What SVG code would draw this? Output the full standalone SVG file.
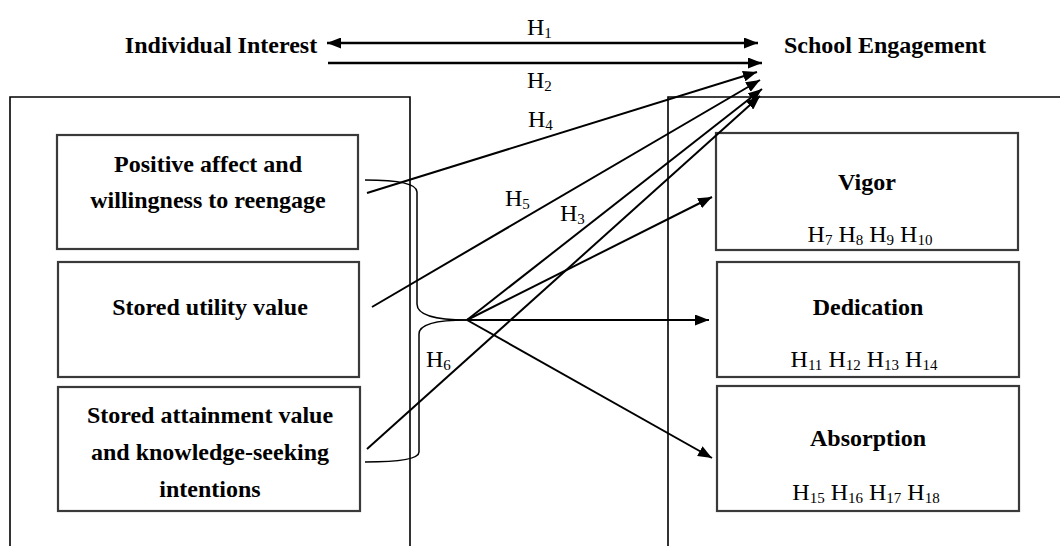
<svg xmlns="http://www.w3.org/2000/svg" width="1060" height="546" viewBox="0 0 1060 546">
<defs>
<style>
.t{font-family:"Liberation Serif","Times New Roman",serif;font-weight:bold;font-size:24px;fill:#000;text-anchor:middle}
.h{font-family:"Liberation Serif","Times New Roman",serif;font-size:24px;fill:#000}
.s{font-size:15px}
.box{fill:#fff;stroke:#3a3a3a;stroke-width:2.2}
.frame{fill:none;stroke:#000;stroke-width:1.6}
.ln{fill:none;stroke:#000;stroke-width:2}
.thick{fill:none;stroke:#000;stroke-width:2.6}
.br{fill:none;stroke:#000;stroke-width:1.5}
</style>
<marker id="ah" markerWidth="14" markerHeight="11" refX="14" refY="5.5" orient="auto-start-reverse" markerUnits="userSpaceOnUse"><path d="M0,0 L14,5.5 L0,11 z" fill="#000"/></marker>
</defs>
<rect width="1060" height="546" fill="#fff"/>

<g id="frames">
<path class="frame" d="M10,546 V97 H410 V546"/>
<path class="frame" d="M668,546 V97 H1060"/>
</g>

<g id="individual-interest"><text class="t" x="221" y="53">Individual Interest</text></g>
<g id="school-engagement"><text class="t" x="885" y="53">School Engagement</text></g>

<g id="positive-affect">
<rect class="box" x="57" y="135" width="301" height="114"/>
<text class="t" x="208" y="172">Positive affect and</text>
<text class="t" x="208" y="208">willingness to reengage</text>
</g>
<g id="stored-utility">
<rect class="box" x="58" y="262" width="301" height="115"/>
<text class="t" x="210" y="315">Stored utility value</text>
</g>
<g id="stored-attainment">
<rect class="box" x="58" y="387" width="302" height="124"/>
<text class="t" x="210" y="423">Stored attainment value</text>
<text class="t" x="210" y="460">and knowledge-seeking</text>
<text class="t" x="210" y="497">intentions</text>
</g>

<g id="vigor">
<rect class="box" x="716" y="133" width="302" height="117"/>
<text class="t" x="867" y="190">Vigor</text>
<text class="h" x="870" y="242" text-anchor="middle">H<tspan class="s" dy="3">7</tspan><tspan dy="-3"> H</tspan><tspan class="s" dy="3">8</tspan><tspan dy="-3"> H</tspan><tspan class="s" dy="3">9</tspan><tspan dy="-3"> H</tspan><tspan class="s" dy="3">10</tspan></text>
</g>
<g id="dedication">
<rect class="box" x="717" y="262" width="302" height="115"/>
<text class="t" x="868" y="315">Dedication</text>
<text class="h" x="864" y="367" text-anchor="middle">H<tspan class="s" dy="3">11</tspan><tspan dy="-3"> H</tspan><tspan class="s" dy="3">12</tspan><tspan dy="-3"> H</tspan><tspan class="s" dy="3">13</tspan><tspan dy="-3"> H</tspan><tspan class="s" dy="3">14</tspan></text>
</g>
<g id="absorption">
<rect class="box" x="717" y="386" width="302" height="125"/>
<text class="t" x="868" y="446">Absorption</text>
<text class="h" x="866" y="500" text-anchor="middle">H<tspan class="s" dy="3">15</tspan><tspan dy="-3"> H</tspan><tspan class="s" dy="3">16</tspan><tspan dy="-3"> H</tspan><tspan class="s" dy="3">17</tspan><tspan dy="-3"> H</tspan><tspan class="s" dy="3">18</tspan></text>
</g>

<g id="connectors">
<line class="thick" x1="327" y1="43" x2="758" y2="43" marker-start="url(#ah)" marker-end="url(#ah)"/>
<line class="thick" x1="328" y1="63" x2="762" y2="63" marker-end="url(#ah)"/>
<line class="ln" x1="367" y1="193" x2="757" y2="72" marker-end="url(#ah)"/>
<line class="ln" x1="372" y1="307" x2="760" y2="80" marker-end="url(#ah)"/>
<line class="ln" x1="467" y1="320" x2="762" y2="89" marker-end="url(#ah)"/>
<line class="ln" x1="367" y1="449" x2="760" y2="96" marker-end="url(#ah)"/>
<line class="ln" x1="467" y1="320" x2="712" y2="197" marker-end="url(#ah)"/>
<line class="ln" x1="467" y1="320" x2="709" y2="320" marker-end="url(#ah)"/>
<line class="ln" x1="467" y1="320" x2="712" y2="458" marker-end="url(#ah)"/>
<path class="br" d="M365,180 Q417,180 417,192 L417,304 Q417,320 467,320"/>
<path class="br" d="M467,320 Q419,320 419,334 L419,452 Q419,462 365,462"/>
</g>

<g id="labels">
<text class="h" x="527" y="35">H<tspan class="s" dy="3">1</tspan></text>
<text class="h" x="527" y="88">H<tspan class="s" dy="3">2</tspan></text>
<text class="h" x="528" y="127">H<tspan class="s" dy="3">4</tspan></text>
<text class="h" x="505" y="206">H<tspan class="s" dy="3">5</tspan></text>
<text class="h" x="560" y="221">H<tspan class="s" dy="3">3</tspan></text>
<text class="h" x="426" y="367">H<tspan class="s" dy="3">6</tspan></text>
</g>
</svg>
